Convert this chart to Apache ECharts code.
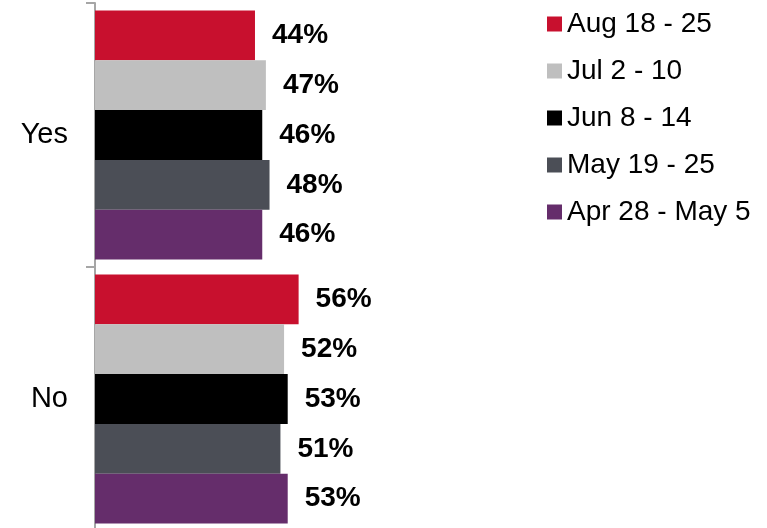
<!DOCTYPE html>
<html lang="en">

<head>
    <meta charset="UTF-8">
    <title>Yes / No by survey wave</title>
    <script src="https://cdn.jsdelivr.net/npm/echarts@6/dist/echarts.min.js"></script>
</head>
<style>
    body {
        margin: 0;
        background: #fff;
    }

    .box {
        width: 767px;
        height: 528px;
    }
</style>

<body>
    <div class="box" id="myChart"></div>
    <script>
        // 数据
        const categories = ['Yes', 'No'];
        const waves = ['Aug 18 - 25', 'Jul 2 - 10', 'Jun 8 - 14', 'May 19 - 25', 'Apr 28 - May 5'];
        const aug = [44, 56];
        const jul = [47, 52];
        const jun = [46, 53];
        const may = [48, 51];
        const apr = [46, 53];
        const colors = ['#C8102E', '#BFBFBF', '#000000', '#4B4E56', '#652D6B'];

        const waveValues = [aug, jul, jun, may, apr];
        const font = 'Liberation Sans, Arial, sans-serif';

        let myEchart = echarts.init(document.getElementById('myChart'));
        let option = {
            animation: false,
            legend: {
                orient: 'vertical',
                left: 542,
                top: 5,
                icon: 'rect',
                itemWidth: 15,
                itemHeight: 15,
                itemGap: 19,
                textStyle: {
                    fontFamily: font,
                    fontSize: 28,
                    color: '#000'
                },
                data: waves
            },
            grid: {
                left: 95,
                top: 3,
                width: 363.6,
                height: 528,
                outerBoundsMode: 'none'
            },
            xAxis: {
                type: 'value',
                min: 0,
                max: 100,
                show: false
            },
            yAxis: {
                type: 'category',
                inverse: true,
                data: categories,
                axisLine: {
                    lineStyle: {
                        color: '#A6A6A6',
                        width: 2
                    }
                },
                axisTick: {
                    show: true,
                    alignWithLabel: false,
                    length: 9,
                    lineStyle: {
                        color: '#A6A6A6',
                        width: 2
                    }
                },
                axisLabel: {
                    margin: 27,
                    fontFamily: font,
                    fontSize: 29,
                    color: '#000'
                }
            },
            series: waves.map(function (name, i) {
                return {
                    name: name,
                    type: 'bar',
                    barGap: 0,
                    barCategoryGap: '5.7%',
                    itemStyle: {
                        color: colors[i]
                    },
                    label: {
                        show: true,
                        position: 'right',
                        distance: 17,
                        formatter: '{c}%',
                        fontFamily: font,
                        fontSize: 28,
                        fontWeight: 'bold',
                        color: '#000'
                    },
                    data: waveValues[i]
                };
            })
        };
        myEchart.setOption(option, true);
    </script>
</body>

</html>
